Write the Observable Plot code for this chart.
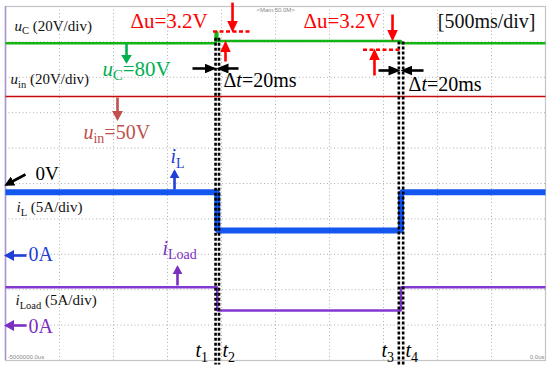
<!DOCTYPE html>
<html>
<head>
<meta charset="utf-8">
<script src="https://cdn.jsdelivr.net/npm/d3@7"></script>
<script src="https://cdn.jsdelivr.net/npm/@observablehq/plot@0.6"></script>
<style>
html, body { margin: 0; padding: 0; background: #fff; }
#chart svg { display: block; }
</style>
</head>
<body>
<div id="chart"></div>
<script>
// ---------------- data (time in ms, values in physical units) ----------------
const uC_t    = [-5000, -3055, -3055, -3023, -1358, -1318, 0];
const uC_v    = [79.3, 79.3, 85.6, 80.5, 80.5, 79.3, 79.3];      // V
const uin_t   = [-5000, 0];
const uin_v   = [49.2, 49.2];                                     // V
const iL_t    = [-5000, -3055, -3023, -1358, -1318, 0];
const iL_v    = [8.77, 8.77, 3.36, 3.36, 8.77, 8.77];             // A
const iLoad_t = [-5000, -3055, -3023, -1358, -1318, 0];
const iLoad_v = [5.35, 5.35, 2.06, 2.06, 5.35, 5.35];             // A
const cursorNames = ["t1", "t2", "t3", "t4"];
const cursorTimes = [-3055, -3023, -1358, -1318];
const timeTicks = [-4500, -4000, -3500, -3000, -2500, -2000, -1500, -1000, -500];
const divTicks  = [1, 2, 3, 4, 5, 6, 7, 8, 9];

// ---------------- channel settings ----------------
const SERIF = "Liberation Serif, Times New Roman, serif";
const tms = xd => -5000 + xd * 500;   // division -> ms
const traces = [
  {t: uC_t,    v: uC_v,    offset: 5, perDiv: 20, color: "#14b414", width: 2.5},
  {t: uin_t,   v: uin_v,   offset: 5, perDiv: 20, color: "#c80a0a", width: 1.5},
  {t: iL_t,    v: iL_v,    offset: 3, perDiv: 5,  color: "#1457f0", width: 6},
  {t: iLoad_t, v: iLoad_v, offset: 1, perDiv: 5,  color: "#8338d0", width: 2.5}
];

// ---------------- annotations (x, y in divisions) ----------------
const cursors = cursorTimes.map((t, i) => ({t, name: cursorNames[i], top: i < 2 ? 9.1 : 9.0}));
const redDots = [
  {x1: 3.852, x2: 4.556, y: 9.294},
  {x1: 6.630, x2: 7.315, y: 8.777}
];
const RED = "#ff0000", BLK = "#000000", GRN = "#00b050", BRN = "#c0504d", BLU = "#1f3fd6", PUR = "#7b2fc0";
const arrows = [
  {x1: 4.204, y1: 10.11, x2: 4.204, y2: 9.35, c: RED, hl: 12, hw: 11},
  {x1: 4.074, y1: 8.446, x2: 4.074, y2: 8.955, c: RED, hl: 12, hw: 11},
  {x1: 7.167, y1: 9.774, x2: 7.167, y2: 9.096, c: RED, hl: 12, hw: 11},
  {x1: 6.833, y1: 8.051, x2: 6.833, y2: 8.729, c: RED, hl: 12, hw: 11},
  {x1: 3.463, y1: 8.249, x2: 3.852, y2: 8.249, c: BLK, hl: 12, hw: 10},
  {x1: 4.315, y1: 8.249, x2: 3.963, y2: 8.249, c: BLK, hl: 12, hw: 10},
  {x1: 6.907, y1: 8.192, x2: 7.259, y2: 8.192, c: BLK, hl: 12, hw: 10},
  {x1: 7.741, y1: 8.192, x2: 7.370, y2: 8.192, c: BLK, hl: 12, hw: 10},
  {x1: 2.241, y1: 8.955, x2: 2.241, y2: 8.446, c: GRN, hl: 9, hw: 11},
  {x1: 2.074, y1: 7.429, x2: 2.074, y2: 6.836, c: BRN, hl: 10, hw: 11},
  {x1: 0.370, y1: 5.254, x2: 0.019, y2: 4.972, c: BLK, hl: 10, hw: 10},
  {x1: 3.130, y1: 4.831, x2: 3.130, y2: 5.339, c: BLU, hl: 9, hw: 10},
  {x1: 0.389, y1: 2.966, x2: 0.019, y2: 2.966, c: BLU, hl: 10, hw: 11},
  {x1: 3.185, y1: 2.119, x2: 3.185, y2: 2.627, c: PUR, hl: 9, hw: 10},
  {x1: 0.389, y1: 0.989, x2: 0.019, y2: 0.989, c: PUR, hl: 10, hw: 11}
];
const labelsStart = [
  {x: 0.167, y: 9.32,  s: "*u*_{C} (20V/div)", c: "#111", f: 15},
  {x: 2.315, y: 9.38,  s: "Δu=3.2V", c: RED, f: 21},
  {x: 5.519, y: 9.38,  s: "Δu=3.2V", c: RED, f: 21},
  {x: 4.037, y: 7.712, s: "Δ*t*=20ms", c: BLK, f: 20},
  {x: 7.463, y: 7.60,  s: "Δ*t*=20ms", c: BLK, f: 20},
  {x: 1.796, y: 8.05,  s: "*u*_{C}=80V", c: GRN, f: 21},
  {x: 0.093, y: 7.80,  s: "*u*_{in} (20V/div)", c: "#111", f: 15},
  {x: 1.444, y: 6.27,  s: "*u*_{in}=50V", c: BRN, f: 20},
  {x: 0.556, y: 5.085, s: "0V", c: BLK, f: 19},
  {x: 3.056, y: 5.565, s: "*i*_{L}", c: BLU, f: 20},
  {x: 0.204, y: 4.181, s: "*i*_{L} (5A/div)", c: "#111", f: 15},
  {x: 0.426, y: 2.80,  s: "0A", c: BLU, f: 20},
  {x: 2.907, y: 2.994, s: "*i*_{Load}", c: PUR, f: 20},
  {x: 0.185, y: 1.554, s: "*i*_{Load} (5A/div)", c: "#111", f: 15},
  {x: 0.426, y: 0.79,  s: "0A", c: PUR, f: 20},
  {x: 3.519, y: 0.085, s: "*t*_{1}", c: BLK, f: 20},
  {x: 4.019, y: 0.085, s: "*t*_{2}", c: BLK, f: 20},
  {x: 6.963, y: 0.085, s: "*t*_{3}", c: BLK, f: 20},
  {x: 7.407, y: 0.085, s: "*t*_{4}", c: BLK, f: 20}
];
const labelsEnd = [
  {x: 9.815, y: 9.379, s: "[500ms/div]", c: "#111", f: 20}
];
const tinyStart = [
  {x: 4.648, y: 9.831, s: "<Main:50.0M>"},
  {x: 0.037, y: 0.056, s: "-5000000.0us"}
];
const tinyEnd = [
  {x: 9.981, y: 0.056, s: "0.0us"}
];

const textOpts = (anchor) => ({
  x: d => tms(d.x), y: "y", text: "s", fill: "c", fontSize: "f",
  fontFamily: SERIF, textAnchor: anchor, lineAnchor: "bottom"
});
const tinyOpts = (anchor) => ({
  x: d => tms(d.x), y: "y", text: "s", fill: "#8a8a8a", fontSize: 6,
  fontFamily: "Liberation Sans, Arial, sans-serif", textAnchor: anchor, lineAnchor: "bottom"
});

const chart = Plot.plot({
  width: 550, height: 368,
  marginLeft: 5, marginRight: 5, marginTop: 6, marginBottom: 8,
  x: {domain: [-5000, 0], axis: null},
  y: {domain: [0, 10], axis: null},
  style: {background: "#fff", overflow: "visible"},
  marks: [
    Plot.ruleX(timeTicks, {stroke: "#b0b0b0", strokeWidth: 1, strokeDasharray: "1,2.5"}),
    Plot.ruleY(divTicks, {stroke: "#b0b0b0", strokeWidth: 1, strokeDasharray: "1,2.5"}),
    Plot.frame({stroke: "#c4c4c4", strokeWidth: 1.2}),
    Plot.ruleX([-5000], {stroke: "#a795d6", strokeWidth: 1.5}),
    ...traces.map(tr => Plot.line(
      tr.t.map((t, i) => ({t, y: tr.offset + tr.v[i] / tr.perDiv})),
      {x: "t", y: "y", curve: "step", stroke: tr.color, strokeWidth: tr.width, strokeLinejoin: "miter", strokeLinecap: "butt"}
    )),
    Plot.ruleX(cursors, {x: "t", y1: "top", y2: d => -0.13, stroke: "#000", strokeWidth: 2.6, strokeDasharray: "3,2"}),
    Plot.ruleY(redDots, {y: "y", x1: d => tms(d.x1), x2: d => tms(d.x2), stroke: RED, strokeWidth: 2.6, strokeDasharray: "4,2.5"}),
    Plot.link(arrows, {x1: d => tms(d.x1), y1: "y1", x2: d => tms(d.x2), y2: "y2", stroke: "c", strokeWidth: 2.6}),
    Plot.text(labelsStart, textOpts("start")),
    Plot.text(labelsEnd, textOpts("end")),
    Plot.text(tinyStart, tinyOpts("start")),
    Plot.text(tinyEnd, tinyOpts("end"))
  ]
});

document.getElementById("chart").append(chart);

// ---------------- post-processing: filled arrow heads & sub/italic text ----------------
const NS = "http://www.w3.org/2000/svg";
const svg = chart.tagName.toLowerCase() === "svg" ? chart : chart.querySelector("svg");
const defs = document.createElementNS(NS, "defs");
svg.insertBefore(defs, svg.firstChild);
const linkGroup = svg.querySelector('g[aria-label="link"]');
if (linkGroup) {
  linkGroup.querySelectorAll("path").forEach((p, i) => {
    const a = arrows[i];
    if (!a) return;
    const id = "ahead" + i;
    const m = document.createElementNS(NS, "marker");
    m.setAttribute("id", id);
    m.setAttribute("viewBox", `0 0 ${a.hl} ${a.hw}`);
    m.setAttribute("markerWidth", a.hl);
    m.setAttribute("markerHeight", a.hw);
    m.setAttribute("markerUnits", "userSpaceOnUse");
    m.setAttribute("refX", a.hl * 0.75);
    m.setAttribute("refY", a.hw / 2);
    m.setAttribute("orient", "auto");
    const hp = document.createElementNS(NS, "path");
    hp.setAttribute("d", `M0,0L${a.hl},${a.hw / 2}L0,${a.hw}Z`);
    hp.setAttribute("fill", a.c);
    hp.setAttribute("stroke", "none");
    m.appendChild(hp);
    defs.appendChild(m);
    p.setAttribute("marker-end", `url(#${id})`);
  });
}
svg.querySelectorAll('g[aria-label="text"] text').forEach(el => {
  const s = el.textContent;
  if (!/\*|_\{/.test(s)) return;
  const fs = parseFloat(getComputedStyle(el).fontSize) || 16;
  el.textContent = "";
  const parts = s.split(/(\*[^*]+\*|_\{[^}]+\})/).filter(Boolean);
  let shifted = 0;
  for (const part of parts) {
    const ts = document.createElementNS(NS, "tspan");
    let dy;
    if (part.startsWith("*")) {
      ts.textContent = part.slice(1, -1);
      ts.setAttribute("font-style", "italic");
      dy = -shifted; shifted = 0;
    } else if (part.startsWith("_{")) {
      ts.textContent = part.slice(2, -1);
      ts.setAttribute("font-size", (fs * 0.7).toFixed(1));
      const d = fs * 0.22;
      dy = d - shifted; shifted = d;
    } else {
      ts.textContent = part;
      dy = -shifted; shifted = 0;
    }
    if (dy) ts.setAttribute("dy", dy.toFixed(2));
    el.appendChild(ts);
  }
});
</script>
</body>
</html>
